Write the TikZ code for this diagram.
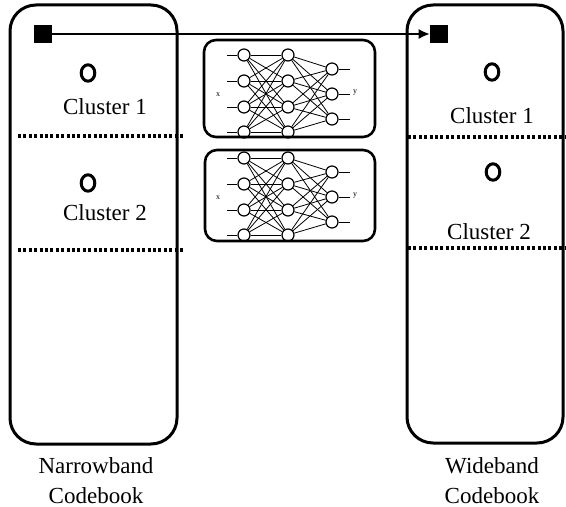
\documentclass[tikz,border=0pt]{standalone}
\usepackage{fontspec}
\setmainfont{Liberation Serif}
\usetikzlibrary{arrows.meta,shapes.geometric,positioning}
\tikzset{
  codebook/.style={draw,line width=1.5pt,rounded corners=13pt},
  netbox/.style={draw,line width=1.3pt,rounded corners=6pt},
  codevec/.style={rectangle,fill=black,minimum size=9pt,inner sep=0pt},
  centroid/.style={ellipse,draw,line width=1.5pt,minimum width=6.8pt,
                   minimum height=8.2pt,inner sep=0pt},
  ctext/.style={font=\fontsize{11.5}{13}\selectfont,inner sep=0pt},
  boundary/.style={line width=1.6pt,dash pattern=on 1.5pt off 1.2pt},
  neuron/.style={circle,draw,line width=0.6pt,minimum size=6pt,inner sep=0pt},
  synapse/.style={line width=0.4pt},
  io/.style={font=\fontsize{4}{4}\selectfont,inner sep=0pt},
  map/.style={-{Latex[length=5.5pt,width=5pt]},line width=0.6pt},
}
\begin{document}
\begin{tikzpicture}[x=0.5pt,y=-0.5pt]
  \useasboundingbox (0,0) rectangle (566,507);

  % the two codebooks
  \draw[codebook] (10,5) rectangle (177,444);
  \draw[codebook] (407,5) rectangle (563,443);

  \node[codevec] (nbvec) at (43,34) {};
  \node[codevec] (wbvec) at (439,34) {};
  \draw[map] (nbvec) -- (wbvec);

  % narrowband clusters
  \node[centroid] (nbc1) at (88,73) {};
  \node[ctext] (nbt1) at (105,107) {Cluster 1};
  \draw[boundary] (18,136) -- (184,136);
  \node[centroid] (nbc2) at (88,183) {};
  \node[ctext] (nbt2) at (105,213) {Cluster 2};
  \draw[boundary] (18,250) -- (184,250);

  % wideband clusters
  \node[centroid] (wbc1) at (492,72) {};
  \node[ctext] (wbt1) at (492,116) {Cluster 1};
  \draw[boundary] (408,137) -- (566,137);
  \node[centroid] (wbc2) at (493,172) {};
  \node[ctext] (wbt2) at (489,232) {Cluster 2};
  \draw[boundary] (408,248) -- (566,248);

  \node[ctext,align=center] (nbname) at (96,481) {Narrowband\\[2pt]Codebook};
  \node[ctext,align=center] (wbname) at (492,481) {Wideband\\[2pt]Codebook};

  % one network per cluster
  \draw[netbox] (204,40) rectangle (375,137);
  \draw[netbox] (205,150) rectangle (375,241);

  \foreach \net/\dy in {top/0,bot/103}{
    \foreach \i/\y in {1/55,2/81,3/107,4/132}{
      \node[neuron] (\net-i\i) at (244,{\y+\dy}) {};
      \node[neuron] (\net-h\i) at (288,{\y+\dy}) {};
      \coordinate (\net-in\i) at (227,{\y+\dy});
      \draw[synapse] (\net-in\i) -- (\net-i\i);
    }
    \foreach \o/\y in {1/69,2/94,3/119}{
      \node[neuron] (\net-o\o) at (332,{\y+\dy}) {};
      \coordinate (\net-out\o) at (350,{\y+\dy});
      \draw[synapse] (\net-o\o) -- (\net-out\o);
    }
    \foreach \i in {1,...,4}
      \foreach \j in {1,...,4}
        \draw[synapse] (\net-i\i) -- (\net-h\j);
    \foreach \j in {1,...,4}
      \foreach \o in {1,2,3}
        \draw[synapse] (\net-h\j) -- (\net-o\o);
    \node[io] (\net-x) at (218,{95+\dy}) {x};
    \node[io] (\net-y) at (355,{93+\dy}) {y};
  }
\end{tikzpicture}
\end{document}
